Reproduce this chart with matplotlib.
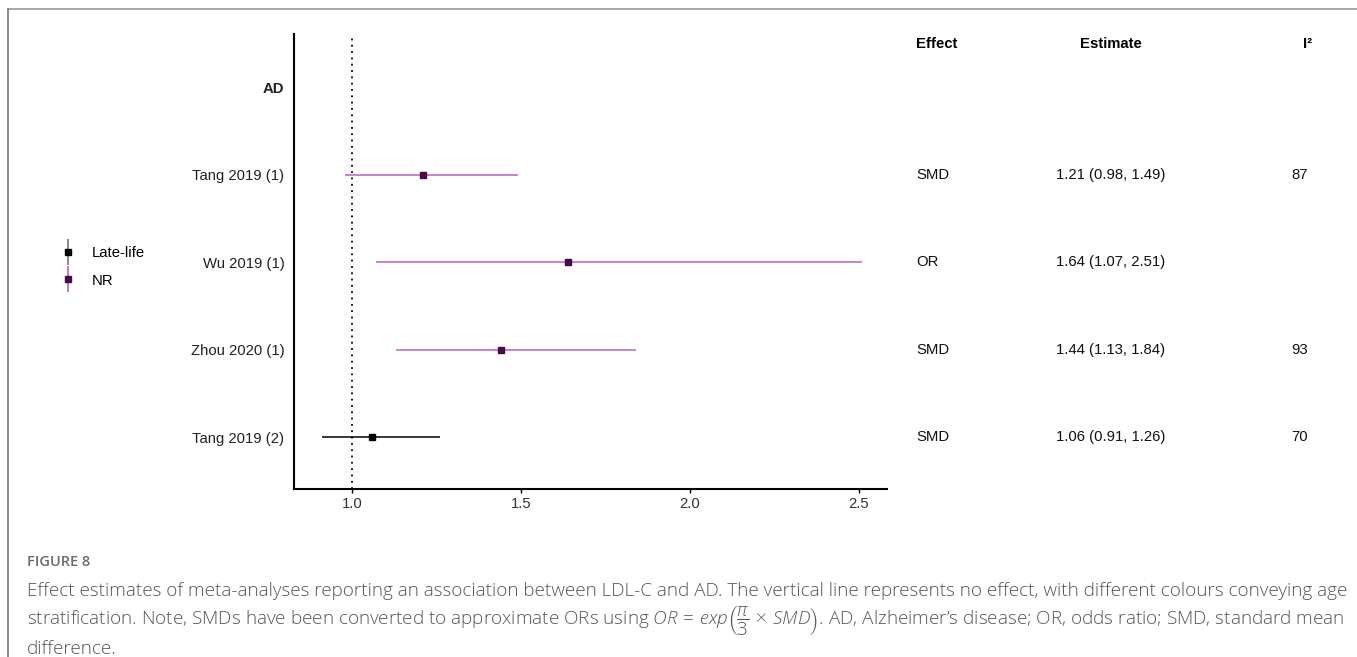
import matplotlib
matplotlib.use("Agg")
import matplotlib.pyplot as plt
import matplotlib.transforms as mtransforms
from matplotlib.lines import Line2D
from matplotlib.legend_handler import HandlerTuple

# ---- data ----
studies = ["Tang 2019 (1)", "Wu 2019 (1)", "Zhou 2020 (1)", "Tang 2019 (2)"]
estimates = [1.21, 1.64, 1.44, 1.06]
lower = [0.98, 1.07, 1.13, 0.91]
upper = [1.49, 2.51, 1.84, 1.26]
groups = ["NR", "NR", "NR", "Late-life"]
effects = ["SMD", "OR", "SMD", "SMD"]
i2 = ["87", "", "93", "70"]
header_label = "AD"
xticks = [1.0, 1.5, 2.0, 2.5]

line_col = {"NR": "#b565b5", "Late-life": "#000000"}
mark_col = {"NR": "#4a0a4a", "Late-life": "#000000"}

plt.rcParams["mathtext.fontset"] = "custom"
plt.rcParams["mathtext.rm"] = "Open Sans:light"
plt.rcParams["mathtext.it"] = "Open Sans:italic:light"
plt.rcParams["mathtext.bf"] = "Open Sans:bold"

W, H = 1357, 657
fig = plt.figure(figsize=(W / 100, H / 100), dpi=100)
ax = fig.add_axes([294 / W, 1 - 489 / H, (887 - 294) / W, (489 - 34) / H])

n = len(studies)
ypos = list(range(n, 0, -1))  # 4,3,2,1
for y, est, lo, hi, g in zip(ypos, estimates, lower, upper, groups):
    ax.plot([lo, hi], [y, y], color=line_col[g], lw=1.1, solid_capstyle="butt", zorder=2)
    ax.plot([est], [y], marker="s", ms=4.5, color=mark_col[g], zorder=3, linestyle="none")

ax.axvline(1.0, color="black", ls=(0, (1, 2.5)), lw=1.3, zorder=1)
ax.set_xlim(0.828, 2.583)
ax.set_ylim(0.406, 5.61)
ax.set_xticks(xticks)
ax.set_xticklabels([f"{t:.1f}" for t in xticks])
ax.set_yticks([n + 1] + ypos)
ax.set_yticklabels([header_label] + studies)
ax.get_yticklabels()[0].set_fontweight("bold")
ax.get_yticklabels()[0].set_color("black")
for s in ["top", "right"]:
    ax.spines[s].set_visible(False)
for s in ["left", "bottom"]:
    ax.spines[s].set_linewidth(1.5)
fsz = 10.7
ax.tick_params(axis="y", length=0, pad=7, labelsize=fsz, labelcolor="#222222")
ax.tick_params(axis="x", length=3, width=1, pad=3, labelsize=fsz, labelcolor="#333333")
for lab in ax.get_xticklabels() + ax.get_yticklabels():
    lab.set_fontfamily("Liberation Sans")

# ---- right-hand table ----
tr = mtransforms.blended_transform_factory(fig.transFigure, ax.transData)
hy = 4 + (174 - 43) / 87.5
fam = "Liberation Sans"
ax.text(916 / W, hy, "Effect", transform=tr, ha="left", va="center", fontsize=fsz, fontweight="bold", family=fam, clip_on=False)
ax.text(1111 / W, hy, "Estimate", transform=tr, ha="center", va="center", fontsize=fsz, fontweight="bold", family=fam, clip_on=False)
ax.text(1308 / W, hy, "I²", transform=tr, ha="center", va="center", fontsize=fsz, fontweight="bold", family=fam, clip_on=False)
for y, e, est, lo, hi, iv in zip(ypos, effects, estimates, lower, upper, i2):
    ax.text(916 / W, y, e, transform=tr, ha="left", va="center", fontsize=fsz, family=fam, color="#111111", clip_on=False)
    ax.text(1111 / W, y, f"{est:.2f} ({lo:.2f}, {hi:.2f})", transform=tr, ha="center", va="center",
            fontsize=fsz, family=fam, color="#111111", clip_on=False)
    if iv:
        ax.text(1300 / W, y, iv, transform=tr, ha="center", va="center", fontsize=fsz, family=fam, color="#111111", clip_on=False)

# ---- legend ----
handles = []
labels = []
for g, lc in [("Late-life", "#777777"), ("NR", line_col["NR"])]:
    vl = Line2D([], [], marker="|", ms=19, mew=1.2, color=lc, linestyle="none")
    sq = Line2D([], [], marker="s", ms=4.5, color=mark_col[g], linestyle="none")
    handles.append((vl, sq))
    labels.append(g)
leg = fig.legend(handles, labels, handler_map={tuple: HandlerTuple(ndivide=1)},
                 loc="center left", bbox_to_anchor=(47 / W, 1 - 267 / H), frameon=False,
                 prop={"family": fam, "size": fsz}, handlelength=1.0, handletextpad=1.1,
                 labelspacing=0.9)

# ---- frame ----
fig.add_artist(Line2D([8 / W, 1], [1 - 9 / H, 1 - 9 / H], color="#999999", lw=1.2, transform=fig.transFigure))
fig.add_artist(Line2D([8 / W, 8 / W], [1 - 9 / H, 0], color="#777777", lw=1.2, transform=fig.transFigure))

# ---- caption ----
cap_fam = ["Open Sans", "DejaVu Sans"]
fig.text(27 / W, 1 - 562 / H, "FIGURE 8", ha="left", va="center", fontsize=10.5, color="#6b6b6b",
         family=cap_fam, fontweight="semibold")
cap1 = ("Effect estimates of meta-analyses reporting an association between LDL-C and AD. "
        "The vertical line represents no effect, with different colours conveying age")
cap2 = (r"stratification. Note, SMDs have been converted to approximate ORs using "
        r"$OR\,=\,exp\left(\dfrac{\pi}{3}\,\times\,SMD\right)$"
        ". AD, Alzheimer’s disease; OR, odds ratio; SMD, standard mean")
cap3 = "difference."
for txt, yy in [(cap1, 596), (cap2, 625), (cap3, 654)]:
    fig.text(27 / W, 1 - yy / H, txt, ha="left", va="baseline", fontsize=13.6, color="#555555",
             family=cap_fam, fontweight="light")

fig.savefig("out.png", dpi=100)
